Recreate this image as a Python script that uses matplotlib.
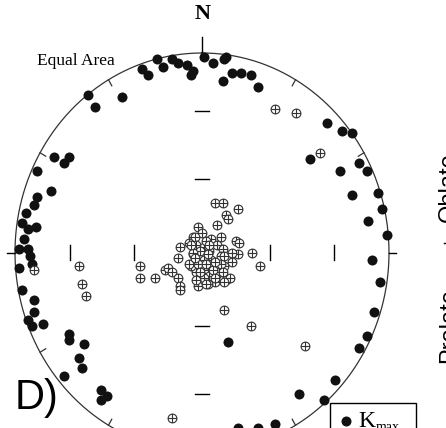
import numpy as np
import matplotlib
matplotlib.use("Agg")
import matplotlib.pyplot as plt
from matplotlib.path import Path
from matplotlib.patches import Rectangle

# Equal-area projected positions (east, north) in units of the primitive circle
kmax_e = [-0.32, -0.29, -0.24, -0.21, -0.16, -0.13, -0.08, -0.05, -0.06, 0.01,
          0.06, 0.12, 0.13, 0.11, 0.16, 0.21, 0.26, 0.30, -0.43, -0.61,
          -0.57, -0.79, -0.74, -0.71, -0.88, -0.81, -0.88, -0.90, -0.94, -0.96,
          -0.93, -0.89, -0.95, -0.98, -0.93, -0.92, -0.91, -0.98, -0.96, -0.90,
          -0.90, -0.93, -0.91, -0.85, -0.71, -0.71, -0.63, -0.66, -0.64, -0.74,
          -0.54, -0.51, -0.54, 0.14, 0.19, 0.30, 0.39, 0.52, 0.65, 0.71,
          0.84, 0.88, 0.92, 0.95, 0.91, 0.99, 0.89, 0.96, 0.94, 0.80,
          0.88, 0.84, 0.74, 0.58, 0.80, 0.75, 0.67]
kmax_n = [0.92, 0.89, 0.97, 0.93, 0.97, 0.95, 0.94, 0.91, 0.89, 0.98,
          0.95, 0.97, 0.98, 0.86, 0.90, 0.90, 0.89, 0.83, 0.78, 0.79,
          0.73, 0.48, 0.45, 0.48, 0.41, 0.31, 0.28, 0.24, 0.20, 0.15,
          0.12, 0.13, 0.07, 0.02, 0.02, -0.02, -0.06, -0.08, -0.19, -0.24,
          -0.30, -0.34, -0.37, -0.36, -0.41, -0.44, -0.46, -0.53, -0.58, -0.62,
          -0.69, -0.72, -0.74, -0.45, -0.88, -0.88, -0.86, -0.71, -0.74, -0.64,
          -0.48, -0.42, -0.30, -0.15, -0.04, 0.09, 0.16, 0.22, 0.30, 0.29,
          0.41, 0.45, 0.41, 0.47, 0.60, 0.61, 0.65]

kmin_e = [0.39, 0.50, 0.63, -0.90, -0.66, -0.64, -0.62, -0.33, -0.33, -0.25,
          -0.16, 0.12, 0.26, 0.55, 0.27, 0.31,
          0.07, 0.11, 0.19, 0.13, 0.14, 0.08, -0.02, 0.00, -0.05,
          -0.12, -0.13, -0.20, -0.18, -0.16, -0.13, -0.12, -0.12,
          -0.04, 0.05, 0.10, 0.18, 0.20, 0.19, 0.16, 0.12, 0.11, 0.13,
          0.15, 0.07, 0.03, 0.00, -0.03, -0.06, -0.05, -0.07, -0.03, 0.01,
          0.04, 0.08, 0.11, 0.10, 0.05, 0.01, -0.02, 0.03, 0.06, 0.09,
          0.04, 0.01, -0.02, 0.10, 0.12, 0.16, -0.01, 0.03, 0.03, 0.06,
          -0.07, -0.05, -0.06, -0.01, 0.07, 0.12, 0.02, 0.04, -0.04, 0.02,
          0.07, 0.11, -0.03, 0.02]
kmin_n = [0.72, 0.70, 0.50, -0.09, -0.07, -0.16, -0.22, -0.07, -0.13, -0.13,
          -0.83, -0.29, -0.37, -0.47, 0.00, -0.07,
          0.25, 0.25, 0.22, 0.19, 0.17, 0.14, 0.13, 0.10, 0.08,
          0.03, -0.03, -0.09, -0.08, -0.10, -0.13, -0.17, -0.19,
          0.08, 0.07, 0.08, 0.06, 0.05, -0.01, -0.05, -0.07, -0.14, -0.14,
          -0.13, -0.15, -0.16, -0.11, -0.10, -0.07, -0.01, 0.05, 0.04, 0.03,
          0.01, 0.04, 0.02, -0.02, -0.04, -0.04, -0.06, -0.09, -0.10, -0.10,
          -0.12, -0.13, -0.17, -0.06, -0.02, 0.00, 0.01, -0.01, -0.06, -0.09,
          -0.06, 0.00, 0.04, -0.10, -0.13, -0.15, 0.06, 0.04, -0.03, -0.06,
          -0.05, -0.10, -0.14, -0.16]

# primitive radius of the 30 and 60 degree inclination marks (equal area)
inc_marks = [np.sqrt(2) * np.sin(np.radians(15)), np.sqrt(2) * np.sin(np.radians(30))]

fig = plt.figure(figsize=(4.46, 4.28), dpi=100)
ax = fig.add_axes([0, 0, 1, 1])
ax.set_xlim(-1.0802, 1.3048)
ax.set_ylim(-0.8797, 1.2657)
ax.axis("off")

# primitive circle
t = np.linspace(0, 2 * np.pi, 721)
ax.plot(np.sin(t), np.cos(t), color="#333333", lw=0.9, zorder=1)

# small inward ticks every 30 degrees
for az in range(30, 360, 30):
    if az % 90 == 0:
        continue
    a = np.radians(az)
    ax.plot([np.sin(a), 0.965 * np.sin(a)], [np.cos(a), 0.965 * np.cos(a)],
            color="#333333", lw=0.9, zorder=1)

# cardinal ticks
ax.plot([0, 0], [1.0, 1.08], color="k", lw=1.0)
ax.plot([-1.0, -1.043], [0, 0], color="k", lw=1.0)
ax.plot([1.0, 1.04], [0, 0], color="k", lw=1.0)
ax.plot([0, 0], [-1.0, -1.08], color="k", lw=1.0)

# inclination marks along the N-S and E-W lines
for r in inc_marks:
    for s in (-1, 1):
        ax.plot([s * r, s * r], [-0.037, 0.037], color="k", lw=1.0, zorder=1)
        ax.plot([-0.04, 0.04], [s * r, s * r], color="k", lw=1.0, zorder=1)

# Kmax as filled dots
ax.scatter(kmax_e, kmax_n, s=52, color="#111111", linewidths=0, zorder=3)

# Kmin as crossed circles
circ = Path.unit_circle()
cross = Path([(-1, 0), (1, 0), (0, -1), (0, 1)],
             [Path.MOVETO, Path.LINETO, Path.MOVETO, Path.LINETO])
crossed = Path.make_compound_path(circ, cross)
ax.scatter(kmin_e, kmin_n, s=40, marker=crossed, facecolors="white",
           edgecolors="#333333", linewidths=0.8, zorder=4)

ax.text(0.005, 1.17, "N", family="Liberation Serif", fontweight="bold",
        fontsize=16, ha="center", va="baseline")
ax.text(-0.882, 0.94, "Equal Area", family="Liberation Serif", fontsize=12.5,
        ha="left", va="baseline")
ax.text(-1.0, -0.784, "D)", family="Liberation Sans", fontsize=30,
        ha="left", va="baseline")

# legend box (cut by the lower edge)
ax.add_patch(Rectangle((0.684, -0.95), 0.46, 0.196, fill=False,
                       edgecolor="k", lw=1.0, zorder=5))
ax.scatter([0.770], [-0.846], s=52, color="#111111", linewidths=0, zorder=6)
ax.text(0.835, -0.873, "K", family="Liberation Serif", fontsize=17,
        ha="left", va="baseline", zorder=6)
ax.text(0.93, -0.895, "max", family="Liberation Serif", fontsize=10,
        ha="left", va="baseline", zorder=6)

# axis label of the neighbouring panel, cut by the right edge
ax.text(1.262, 0.33, "Oblate", family="Liberation Sans", fontsize=17,
        rotation=90, ha="left", va="center")
ax.text(1.262, -0.365, "Prolate", family="Liberation Sans", fontsize=17,
        rotation=90, ha="left", va="center")
ax.plot([1.294, 1.31], [0.05, 0.05], color="k", lw=1.0)

fig.savefig("out.png", dpi=100)
